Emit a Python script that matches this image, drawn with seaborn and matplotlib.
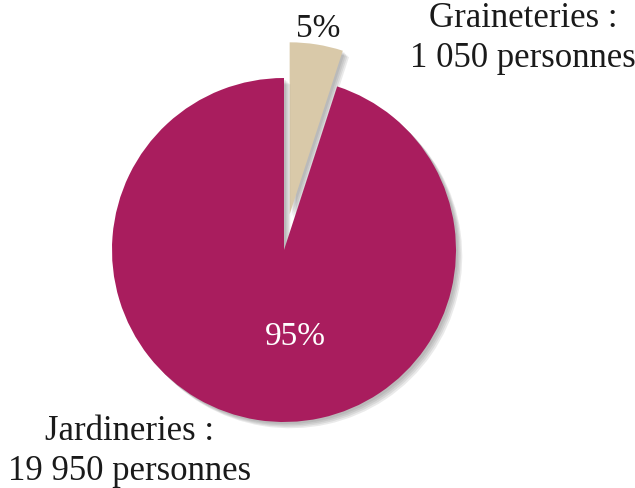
import matplotlib
matplotlib.use("Agg")
import matplotlib.pyplot as plt
import matplotlib.patheffects as pe
import seaborn as sns

# data
categories = ["Graineteries", "Jardineries"]
counts = [1050, 19950]
count_labels = ["1 050", "19 950"]
colors = ["#D9C9A9", "#A91D5E"]

sns.set_theme(style="white")
plt.rcParams['font.family'] = ['Liberation Serif', 'DejaVu Serif']

fig = plt.figure(figsize=(6.35, 4.89), dpi=100)
ax = fig.add_axes([0, 0, 1, 1])

# soft grey shadow, offset right/down
shadow = [pe.SimplePatchShadow(offset=(d, -d), shadow_rgbFace='0.35', alpha=0.12)
          for d in (1.5, 2.5, 3.5, 4.5)] + [pe.Normal()]

wedges, _ = ax.pie(counts, colors=colors, startangle=90, counterclock=False,
                   explode=[0.21, 0], radius=1,
                   wedgeprops=dict(linewidth=0, path_effects=shadow))

total = sum(counts)
pcts = ["{:.0f}%".format(100 * c / total) for c in counts]

# percentage labels
ax.text(0.20, 1.295, pcts[0], ha='center', va='center', fontsize=24, color='#1a1a1a')
ax.text(0.065, -0.5, pcts[1], ha='center', va='center', fontsize=24, color='white')

# category labels
ax.text(1.39, 1.235, categories[0] + " :\n" + count_labels[0] + " personnes",
        ha='center', va='center', fontsize=25, color='#1a1a1a', linespacing=1.3)
ax.text(-0.90, -1.165, categories[1] + " :\n" + count_labels[1] + " personnes",
        ha='center', va='center', fontsize=25, color='#1a1a1a', linespacing=1.3)

ax.set_xlim(-284 / 172, (635 - 284) / 172)
ax.set_ylim(-238 / 172, (489 - 238) / 172)
ax.set_aspect('auto')
ax.axis('off')

fig.savefig("out.png", dpi=100)
